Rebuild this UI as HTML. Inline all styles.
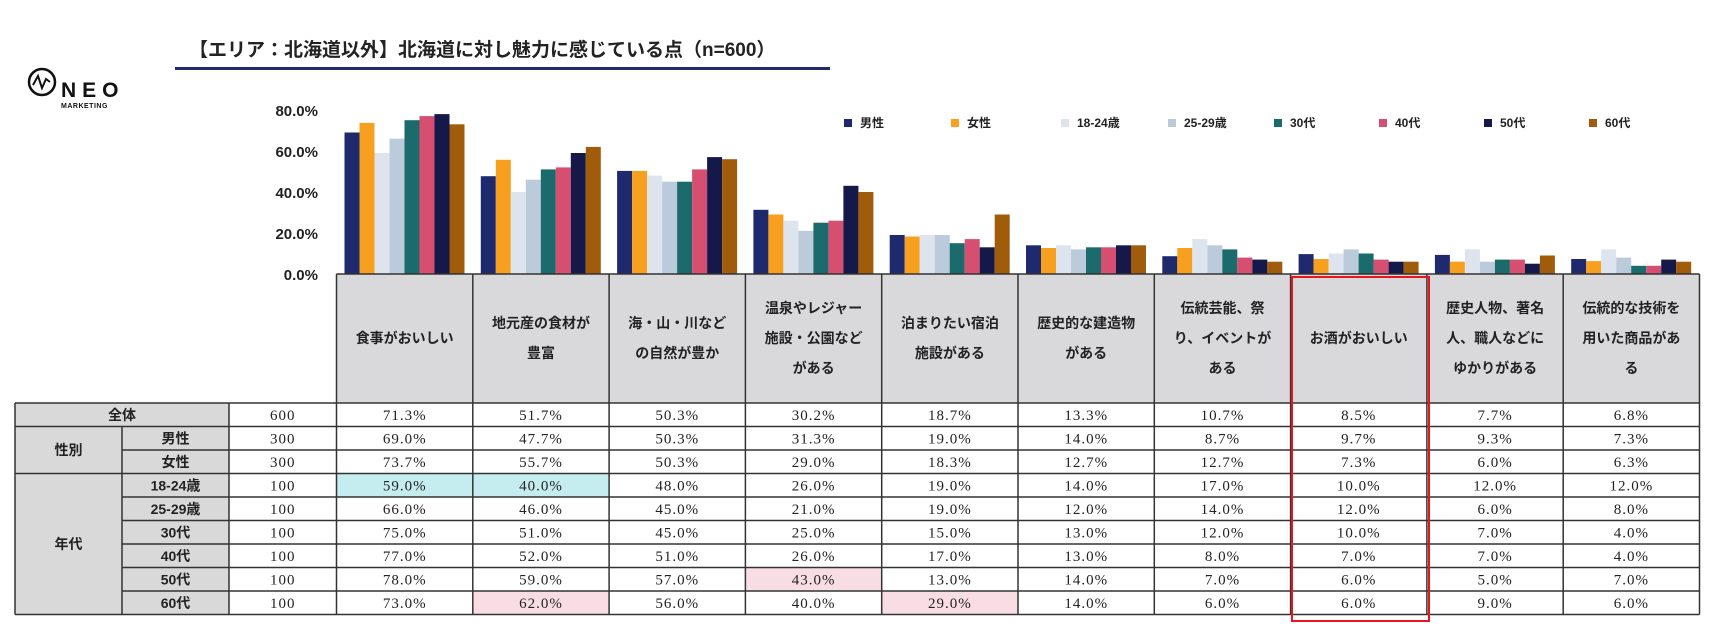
<!DOCTYPE html>
<html><head><meta charset="utf-8"><style>
html,body{margin:0;padding:0;background:#fff;}
svg{display:block;}
.t{font-family:"Liberation Sans","Noto Sans CJK JP",sans-serif;}
.m{font-family:"Liberation Serif","Noto Serif CJK JP",serif;font-size:15px;letter-spacing:1px;fill:#222;}
.c0{fill:#1f2a6e}.c1{fill:#f7a020}.c2{fill:#dde4ee}.c3{fill:#bccbdc}.c4{fill:#1b6b6d}.c5{fill:#d64f70}.c6{fill:#14194a}.c7{fill:#a05c0a}
.h{font-family:"Liberation Sans","Noto Sans CJK JP",sans-serif;font-size:14px;font-weight:bold;fill:#222;}
.l{font-family:"Liberation Sans","Noto Sans CJK JP",sans-serif;font-size:12px;font-weight:bold;fill:#222;}
</style></head><body>
<svg width="1719" height="634" viewBox="0 0 1719 634" xmlns="http://www.w3.org/2000/svg">
<!-- logo -->
<circle cx="42" cy="82" r="13" fill="none" stroke="#111" stroke-width="2.5"/>
<polyline points="33,85 38,76 42,88 46,79 50,82" fill="none" stroke="#111" stroke-width="2"/>
<text x="61" y="97" class="t" font-size="21" font-weight="bold" letter-spacing="6" fill="#111">NEO</text>
<text x="61" y="108" class="t" font-size="7" font-weight="bold" letter-spacing="0.5" fill="#111">MARKETING</text>
<!-- title -->
<text x="189" y="56" class="t" font-size="19" font-weight="bold" fill="#222">【エリア：北海道以外】北海道に対し魅力に感じている点（n=600）</text>
<rect x="175" y="67" width="655" height="3" fill="#1f2a6e"/>
<!-- y axis labels -->
<g class="t" font-size="15" font-weight="bold" fill="#222" text-anchor="end">
<text x="318" y="116">80.0%</text>
<text x="318" y="157">60.0%</text>
<text x="318" y="198">40.0%</text>
<text x="318" y="239">20.0%</text>
<text x="318" y="280">0.0%</text>
</g>
<!-- legend -->
<rect x="844" y="119" width="8" height="8" class="c0"/><text x="860" y="127" class="l">男性</text>
<rect x="951" y="119" width="8" height="8" class="c1"/><text x="967" y="127" class="l">女性</text>
<rect x="1061" y="119" width="8" height="8" class="c2"/><text x="1077" y="127" class="l">18-24歳</text>
<rect x="1168" y="119" width="8" height="8" class="c3"/><text x="1184" y="127" class="l">25-29歳</text>
<rect x="1274" y="119" width="8" height="8" class="c4"/><text x="1290" y="127" class="l">30代</text>
<rect x="1379" y="119" width="8" height="8" class="c5"/><text x="1395" y="127" class="l">40代</text>
<rect x="1484" y="119" width="8" height="8" class="c6"/><text x="1500" y="127" class="l">50代</text>
<rect x="1589" y="119" width="8" height="8" class="c7"/><text x="1605" y="127" class="l">60代</text>
<!-- bars -->
<g transform="translate(344.5,274) scale(1,-1)"><rect x="0" width="15" height="141.5" class="c0"/><rect x="15" width="15" height="151.1" class="c1"/><rect x="30" width="15" height="121" class="c2"/><rect x="45" width="15" height="135.3" class="c3"/><rect x="60" width="15" height="153.8" class="c4"/><rect x="75" width="15" height="157.9" class="c5"/><rect x="90" width="15" height="159.9" class="c6"/><rect x="105" width="15" height="149.7" class="c7"/></g>
<g transform="translate(480.8,274) scale(1,-1)"><rect x="0" width="15" height="97.8" class="c0"/><rect x="15" width="15" height="114.2" class="c1"/><rect x="30" width="15" height="82" class="c2"/><rect x="45" width="15" height="94.3" class="c3"/><rect x="60" width="15" height="104.6" class="c4"/><rect x="75" width="15" height="106.6" class="c5"/><rect x="90" width="15" height="121" class="c6"/><rect x="105" width="15" height="127.1" class="c7"/></g>
<g transform="translate(617.1,274) scale(1,-1)"><rect x="0" width="15" height="103.1" class="c0"/><rect x="15" width="15" height="103.1" class="c1"/><rect x="30" width="15" height="98.4" class="c2"/><rect x="45" width="15" height="92.3" class="c3"/><rect x="60" width="15" height="92.3" class="c4"/><rect x="75" width="15" height="104.6" class="c5"/><rect x="90" width="15" height="116.9" class="c6"/><rect x="105" width="15" height="114.8" class="c7"/></g>
<g transform="translate(753.4,274) scale(1,-1)"><rect x="0" width="15" height="64.2" class="c0"/><rect x="15" width="15" height="59.5" class="c1"/><rect x="30" width="15" height="53.3" class="c2"/><rect x="45" width="15" height="43.1" class="c3"/><rect x="60" width="15" height="51.3" class="c4"/><rect x="75" width="15" height="53.3" class="c5"/><rect x="90" width="15" height="88.2" class="c6"/><rect x="105" width="15" height="82" class="c7"/></g>
<g transform="translate(889.7,274) scale(1,-1)"><rect x="0" width="15" height="39" class="c0"/><rect x="15" width="15" height="37.5" class="c1"/><rect x="30" width="15" height="39" class="c2"/><rect x="45" width="15" height="39" class="c3"/><rect x="60" width="15" height="30.8" class="c4"/><rect x="75" width="15" height="34.9" class="c5"/><rect x="90" width="15" height="26.7" class="c6"/><rect x="105" width="15" height="59.5" class="c7"/></g>
<g transform="translate(1026,274) scale(1,-1)"><rect x="0" width="15" height="28.7" class="c0"/><rect x="15" width="15" height="26" class="c1"/><rect x="30" width="15" height="28.7" class="c2"/><rect x="45" width="15" height="24.6" class="c3"/><rect x="60" width="15" height="26.7" class="c4"/><rect x="75" width="15" height="26.7" class="c5"/><rect x="90" width="15" height="28.7" class="c6"/><rect x="105" width="15" height="28.7" class="c7"/></g>
<g transform="translate(1162.3,274) scale(1,-1)"><rect x="0" width="15" height="17.8" class="c0"/><rect x="15" width="15" height="26" class="c1"/><rect x="30" width="15" height="34.9" class="c2"/><rect x="45" width="15" height="28.7" class="c3"/><rect x="60" width="15" height="24.6" class="c4"/><rect x="75" width="15" height="16.4" class="c5"/><rect x="90" width="15" height="14.4" class="c6"/><rect x="105" width="15" height="12.3" class="c7"/></g>
<g transform="translate(1298.6,274) scale(1,-1)"><rect x="0" width="15" height="19.9" class="c0"/><rect x="15" width="15" height="15" class="c1"/><rect x="30" width="15" height="20.5" class="c2"/><rect x="45" width="15" height="24.6" class="c3"/><rect x="60" width="15" height="20.5" class="c4"/><rect x="75" width="15" height="14.4" class="c5"/><rect x="90" width="15" height="12.3" class="c6"/><rect x="105" width="15" height="12.3" class="c7"/></g>
<g transform="translate(1434.9,274) scale(1,-1)"><rect x="0" width="15" height="19.1" class="c0"/><rect x="15" width="15" height="12.3" class="c1"/><rect x="30" width="15" height="24.6" class="c2"/><rect x="45" width="15" height="12.3" class="c3"/><rect x="60" width="15" height="14.4" class="c4"/><rect x="75" width="15" height="14.4" class="c5"/><rect x="90" width="15" height="10.3" class="c6"/><rect x="105" width="15" height="18.5" class="c7"/></g>
<g transform="translate(1571.2,274) scale(1,-1)"><rect x="0" width="15" height="15" class="c0"/><rect x="15" width="15" height="12.9" class="c1"/><rect x="30" width="15" height="24.6" class="c2"/><rect x="45" width="15" height="16.4" class="c3"/><rect x="60" width="15" height="8.2" class="c4"/><rect x="75" width="15" height="8.2" class="c5"/><rect x="90" width="15" height="14.4" class="c6"/><rect x="105" width="15" height="12.3" class="c7"/></g>
<!-- table fills -->
<rect x="336.5" y="274" width="1363" height="129" fill="#d9d9dc"/>
<rect x="15" y="403" width="214" height="211.5" fill="#d9d9d9"/>
<rect x="336.5" y="473.5" width="272.6" height="23.5" fill="#c5edf0"/>
<rect x="472.8" y="591" width="136.3" height="23.5" fill="#f9dde5"/>
<rect x="745.4" y="567.5" width="136.3" height="23.5" fill="#f9dde5"/>
<rect x="881.7" y="591" width="136.3" height="23.5" fill="#f9dde5"/>
<!-- grid -->
<g stroke="#333" stroke-width="1.5" fill="none">
<line x1="336.5" y1="274" x2="1699.5" y2="274"/>
<line x1="15" y1="403" x2="1699.5" y2="403"/>
<line x1="15" y1="426.5" x2="1699.5" y2="426.5"/>
<line x1="122" y1="450" x2="1699.5" y2="450"/>
<line x1="15" y1="473.5" x2="1699.5" y2="473.5"/>
<line x1="122" y1="497" x2="1699.5" y2="497"/>
<line x1="122" y1="520.5" x2="1699.5" y2="520.5"/>
<line x1="122" y1="544" x2="1699.5" y2="544"/>
<line x1="122" y1="567.5" x2="1699.5" y2="567.5"/>
<line x1="122" y1="591" x2="1699.5" y2="591"/>
<line x1="15" y1="614.5" x2="1699.5" y2="614.5"/>
<line x1="15" y1="403" x2="15" y2="614.5"/>
<line x1="122" y1="426.5" x2="122" y2="614.5"/>
<line x1="229" y1="403" x2="229" y2="614.5"/>
<line x1="336.5" y1="274" x2="336.5" y2="614.5"/>
<line x1="472.8" y1="274" x2="472.8" y2="614.5"/>
<line x1="609.1" y1="274" x2="609.1" y2="614.5"/>
<line x1="745.4" y1="274" x2="745.4" y2="614.5"/>
<line x1="881.7" y1="274" x2="881.7" y2="614.5"/>
<line x1="1018" y1="274" x2="1018" y2="614.5"/>
<line x1="1154.3" y1="274" x2="1154.3" y2="614.5"/>
<line x1="1290.6" y1="274" x2="1290.6" y2="614.5"/>
<line x1="1426.9" y1="274" x2="1426.9" y2="614.5"/>
<line x1="1563.2" y1="274" x2="1563.2" y2="614.5"/>
<line x1="1699.5" y1="274" x2="1699.5" y2="614.5"/>
</g>
<rect x="1292" y="277" width="137" height="344" fill="none" stroke="#e8161c" stroke-width="2"/>
<!-- header text -->
<g class="h" text-anchor="middle">
<text x="404.7" y="343">食事がおいしい</text>
<text x="541" y="328">地元産の食材が</text><text x="541" y="358">豊富</text>
<text x="677.3" y="328">海・山・川など</text><text x="677.3" y="358">の自然が豊か</text>
<text x="813.6" y="313">温泉やレジャー</text><text x="813.6" y="343">施設・公園など</text><text x="813.6" y="373">がある</text>
<text x="949.9" y="328">泊まりたい宿泊</text><text x="949.9" y="358">施設がある</text>
<text x="1086.2" y="328">歴史的な建造物</text><text x="1086.2" y="358">がある</text>
<text x="1222.5" y="313">伝統芸能、祭</text><text x="1222.5" y="343">り、イベントが</text><text x="1222.5" y="373">ある</text>
<text x="1358.8" y="343">お酒がおいしい</text>
<text x="1495.1" y="313">歴史人物、著名</text><text x="1495.1" y="343">人、職人などに</text><text x="1495.1" y="373">ゆかりがある</text>
<text x="1631.4" y="313">伝統的な技術を</text><text x="1631.4" y="343">用いた商品があ</text><text x="1631.4" y="373">る</text>
</g>
<!-- row labels -->
<g class="h" text-anchor="middle">
<text x="122" y="420">全体</text>
<text x="68.5" y="455">性別</text>
<text x="68.5" y="549">年代</text>
<text x="175.5" y="443.5">男性</text>
<text x="175.5" y="467">女性</text>
<text x="175.5" y="490.5">18-24歳</text>
<text x="175.5" y="514">25-29歳</text>
<text x="175.5" y="537.5">30代</text>
<text x="175.5" y="561">40代</text>
<text x="175.5" y="584.5">50代</text>
<text x="175.5" y="608">60代</text>
</g>
<!-- data -->
<g class="m" text-anchor="middle">
<text x="282.7" y="420">600</text><text x="282.7" y="443.5">300</text><text x="282.7" y="467">300</text><text x="282.7" y="490.5">100</text><text x="282.7" y="514">100</text><text x="282.7" y="537.5">100</text><text x="282.7" y="561">100</text><text x="282.7" y="584.5">100</text><text x="282.7" y="608">100</text>

<text x="404.7" y="420">71.3%</text><text x="404.7" y="443.5">69.0%</text><text x="404.7" y="467">73.7%</text><text x="404.7" y="490.5">59.0%</text><text x="404.7" y="514">66.0%</text><text x="404.7" y="537.5">75.0%</text><text x="404.7" y="561">77.0%</text><text x="404.7" y="584.5">78.0%</text><text x="404.7" y="608">73.0%</text>

<text x="541" y="420">51.7%</text><text x="541" y="443.5">47.7%</text><text x="541" y="467">55.7%</text><text x="541" y="490.5">40.0%</text><text x="541" y="514">46.0%</text><text x="541" y="537.5">51.0%</text><text x="541" y="561">52.0%</text><text x="541" y="584.5">59.0%</text><text x="541" y="608">62.0%</text>

<text x="677.3" y="420">50.3%</text><text x="677.3" y="443.5">50.3%</text><text x="677.3" y="467">50.3%</text><text x="677.3" y="490.5">48.0%</text><text x="677.3" y="514">45.0%</text><text x="677.3" y="537.5">45.0%</text><text x="677.3" y="561">51.0%</text><text x="677.3" y="584.5">57.0%</text><text x="677.3" y="608">56.0%</text>

<text x="813.6" y="420">30.2%</text><text x="813.6" y="443.5">31.3%</text><text x="813.6" y="467">29.0%</text><text x="813.6" y="490.5">26.0%</text><text x="813.6" y="514">21.0%</text><text x="813.6" y="537.5">25.0%</text><text x="813.6" y="561">26.0%</text><text x="813.6" y="584.5">43.0%</text><text x="813.6" y="608">40.0%</text>

<text x="949.9" y="420">18.7%</text><text x="949.9" y="443.5">19.0%</text><text x="949.9" y="467">18.3%</text><text x="949.9" y="490.5">19.0%</text><text x="949.9" y="514">19.0%</text><text x="949.9" y="537.5">15.0%</text><text x="949.9" y="561">17.0%</text><text x="949.9" y="584.5">13.0%</text><text x="949.9" y="608">29.0%</text>

<text x="1086.2" y="420">13.3%</text><text x="1086.2" y="443.5">14.0%</text><text x="1086.2" y="467">12.7%</text><text x="1086.2" y="490.5">14.0%</text><text x="1086.2" y="514">12.0%</text><text x="1086.2" y="537.5">13.0%</text><text x="1086.2" y="561">13.0%</text><text x="1086.2" y="584.5">14.0%</text><text x="1086.2" y="608">14.0%</text>

<text x="1222.5" y="420">10.7%</text><text x="1222.5" y="443.5">8.7%</text><text x="1222.5" y="467">12.7%</text><text x="1222.5" y="490.5">17.0%</text><text x="1222.5" y="514">14.0%</text><text x="1222.5" y="537.5">12.0%</text><text x="1222.5" y="561">8.0%</text><text x="1222.5" y="584.5">7.0%</text><text x="1222.5" y="608">6.0%</text>

<text x="1358.8" y="420">8.5%</text><text x="1358.8" y="443.5">9.7%</text><text x="1358.8" y="467">7.3%</text><text x="1358.8" y="490.5">10.0%</text><text x="1358.8" y="514">12.0%</text><text x="1358.8" y="537.5">10.0%</text><text x="1358.8" y="561">7.0%</text><text x="1358.8" y="584.5">6.0%</text><text x="1358.8" y="608">6.0%</text>

<text x="1495.1" y="420">7.7%</text><text x="1495.1" y="443.5">9.3%</text><text x="1495.1" y="467">6.0%</text><text x="1495.1" y="490.5">12.0%</text><text x="1495.1" y="514">6.0%</text><text x="1495.1" y="537.5">7.0%</text><text x="1495.1" y="561">7.0%</text><text x="1495.1" y="584.5">5.0%</text><text x="1495.1" y="608">9.0%</text>

<text x="1631.4" y="420">6.8%</text><text x="1631.4" y="443.5">7.3%</text><text x="1631.4" y="467">6.3%</text><text x="1631.4" y="490.5">12.0%</text><text x="1631.4" y="514">8.0%</text><text x="1631.4" y="537.5">4.0%</text><text x="1631.4" y="561">4.0%</text><text x="1631.4" y="584.5">7.0%</text><text x="1631.4" y="608">6.0%</text>
</g>
</svg>
</body></html>
